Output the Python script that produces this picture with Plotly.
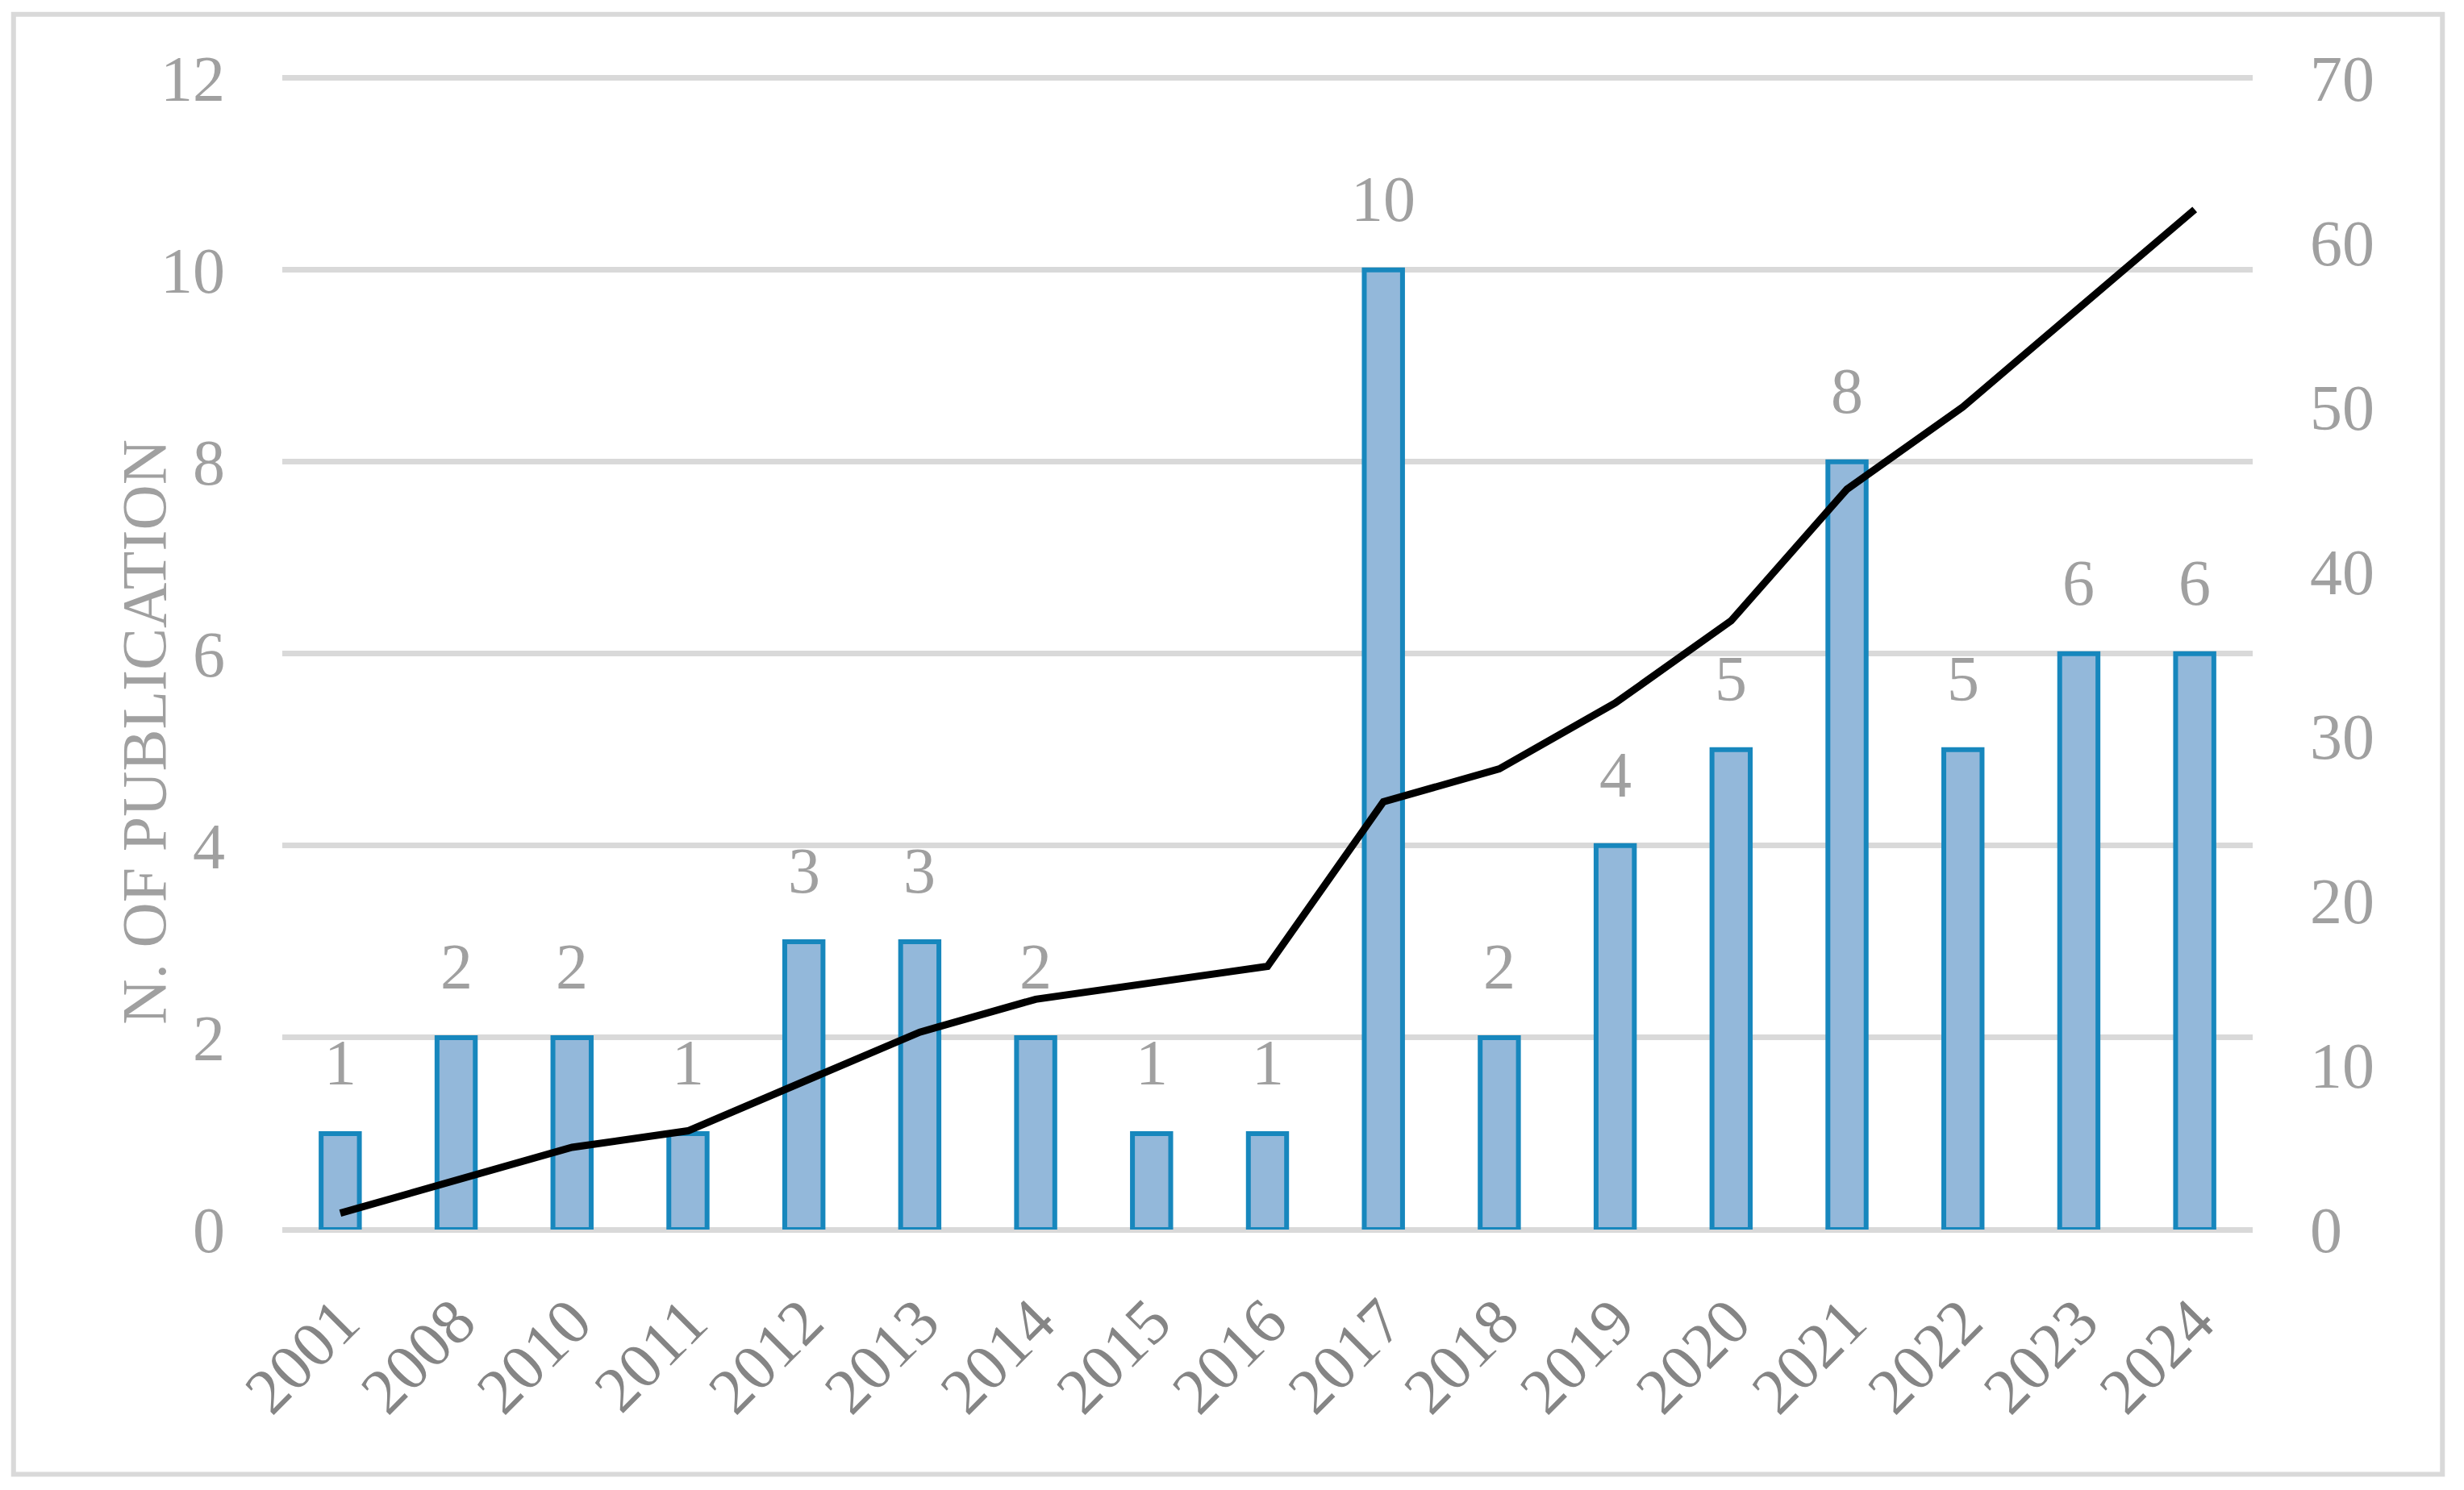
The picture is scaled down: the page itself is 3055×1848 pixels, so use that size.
import plotly.graph_objects as go

years = ["2001", "2008", "2010", "2011", "2012", "2013", "2014", "2015", "2016",
         "2017", "2018", "2019", "2020", "2021", "2022", "2023", "2024"]
publications = [1, 2, 2, 1, 3, 3, 2, 1, 1, 10, 2, 4, 5, 8, 5, 6, 6]
cumulative = [1, 3, 5, 6, 9, 12, 14, 15, 16, 26, 28, 32, 37, 45, 50, 56, 62]
left_ticks = [0, 2, 4, 6, 8, 10, 12]
right_ticks = [0, 10, 20, 30, 40, 50, 60, 70]

FONT = "Liberation Serif, Times New Roman, Times, DejaVu Serif, serif"
LABEL_GREY = "#a0a0a0"
XLABEL_GREY = "#858585"
GRID = "#d9d9d9"

# small headroom so the top gridline (12) is drawn; right axis scaled to match
top_pad = 1.0025
y_top = left_ticks[-1] * top_pad
y2_top = right_ticks[-1] * top_pad

fig = go.Figure()
fig.add_trace(go.Bar(
    x=years, y=publications,
    marker=dict(color="#93b8da", line=dict(color="#1787bd", width=6)),
    width=0.33,
    yaxis="y",
    hoverinfo="skip",
))
fig.add_trace(go.Scatter(
    x=years, y=cumulative,
    mode="lines",
    line=dict(color="#000000", width=9),
    yaxis="y2",
    hoverinfo="skip",
))

annotations = []
for i, v in enumerate(publications):
    annotations.append(dict(
        x=i, y=v, xref="x", yref="y", text=str(v), showarrow=False,
        yanchor="bottom", xanchor="center", yshift=42,
        font=dict(family=FONT, size=80, color=LABEL_GREY),
    ))
annotations.append(dict(
    x=-0.070, y=0.431, xref="paper", yref="paper", text="N. OF PUBLICATION",
    showarrow=False, textangle=-90, xanchor="center", yanchor="middle",
    font=dict(family=FONT, size=78, color=LABEL_GREY),
))

fig.update_layout(
    width=3047, height=1840,
    margin=dict(l=342, r=262, t=85, b=323, autoexpand=False),
    paper_bgcolor="white", plot_bgcolor="white",
    showlegend=False,
    font=dict(family=FONT, color=LABEL_GREY),
    xaxis=dict(
        type="category", categoryorder="array", categoryarray=years,
        range=[-0.5, len(years) - 0.5], tickangle=-45,
        tickfont=dict(family=FONT, size=80, color=XLABEL_GREY),
        showgrid=False, showline=False, zeroline=False,
        ticks="", ticklabelstandoff=50,
    ),
    yaxis=dict(
        range=[0, y_top], tickvals=left_ticks,
        tickfont=dict(family=FONT, size=80, color=LABEL_GREY),
        showgrid=True, gridcolor=GRID, gridwidth=7,
        zeroline=True, zerolinecolor=GRID, zerolinewidth=7,
        showline=False, ticks="", ticklabelstandoff=70,
    ),
    yaxis2=dict(
        range=[0, y2_top], tickvals=right_ticks, overlaying="y", side="right",
        tickfont=dict(family=FONT, size=80, color=LABEL_GREY),
        showgrid=False, zeroline=False, showline=False, ticks="",
        ticklabelstandoff=70,
    ),
    annotations=annotations,
    shapes=[dict(
        type="rect", xref="paper", yref="paper",
        x0=-0.1364, x1=1.0963, y0=-0.2119, y1=1.0526,
        line=dict(color=GRID, width=6), fillcolor="rgba(0,0,0,0)", layer="below",
    )],
)

fig.write_html("out.html")
